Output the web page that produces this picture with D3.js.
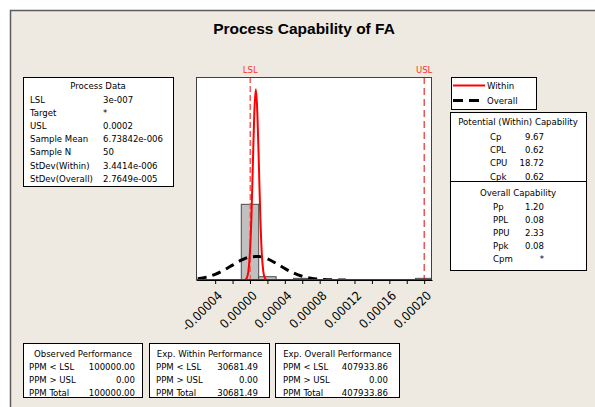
<!DOCTYPE html>
<html>
<head>
<meta charset="utf-8">
<script src="https://cdn.jsdelivr.net/npm/d3@7"></script>
<style>
  body { margin: 0; background: #fff; }
  text { font-family: "DejaVu Sans Condensed", "Liberation Sans", sans-serif; font-stretch: condensed; }
</style>
</head>
<body>
<script>
const width = 595;
const height = 407;

// --- data ---
const processLabels = ["LSL", "Target", "USL", "Sample Mean", "Sample N", "StDev(Within)", "StDev(Overall)"];
const processValues = ["3e-007", "*", "0.0002", "6.73842e-006", "50", "3.4414e-006", "2.7649e-005"];

const lsl = 0.0000003;
const usl = 0.0002;
const sampleN = 50;
const binWidth = 0.00002;
const binCenters = [0, 0.00002, 0.00006, 0.0002];
const binCounts = [46, 2, 1, 1];

// within fit (x in 1e-6 units, density)
const withinX = [-5.3, -3.6, -1.9, -0.2, 1.6, 3.3, 5.0, 6.7, 8.4, 10.2, 11.9, 13.6, 15.3, 17.0, 18.8];
const withinY = [255, 1290, 5090, 15700, 37600, 70300, 102300, 115900, 102300, 70300, 37600, 15700, 5090, 1290, 255];

// overall fit (x in 1e-6 units, density)
const overallX = [-60, -50, -40, -30, -20, -10, 0, 10, 20, 30, 40, 50, 60, 70, 80, 90, 100, 110];
const overallY = [787, 1762, 3466, 5981, 9055, 12025, 14007, 14330, 12863, 10128, 6999, 4241, 2258, 1053, 431, 155, 49, 13];

const tickVals = [-0.00004, -0.00002, 0, 0.00002, 0.00004, 0.00006, 0.00008, 0.0001, 0.00012, 0.00014, 0.00016, 0.00018, 0.0002];
const tickLabels = ["-0.00004", "", "0.00000", "", "0.00004", "", "0.00008", "", "0.00012", "", "0.00016", "", "0.00020"];

const potLabels = ["Cp", "CPL", "CPU", "Cpk"];
const potValues = ["9.67", "0.62", "18.72", "0.62"];
const ovLabels = ["Pp", "PPL", "PPU", "Ppk", "Cpm"];
const ovValues = ["1.20", "0.08", "2.33", "0.08", "*"];

const perfRows = ["PPM < LSL", "PPM > USL", "PPM Total"];
const perfTitles = ["Observed Performance", "Exp. Within Performance", "Exp. Overall Performance"];
const observedPPM = ["100000.00", "0.00", "100000.00"];
const withinPPM = ["30681.49", "0.00", "30681.49"];
const overallPPM = ["407933.86", "0.00", "407933.86"];

const svg = d3.select("body").append("svg")
  .attr("width", width)
  .attr("height", height);

// background panel
svg.append("rect")
  .attr("x", 10.5).attr("y", 10.5)
  .attr("width", 620).attr("height", 420)
  .attr("fill", "#eeeae1")
  .attr("stroke", "#5c5c5c")
  .attr("stroke-width", 1.5);

svg.append("text")
  .attr("x", 304).attr("y", 34)
  .attr("text-anchor", "middle")
  .style("font-family", "'Liberation Sans', sans-serif")
  .style("font-stretch", "normal")
  .style("font-weight", "bold")
  .style("font-size", "15.5px")
  .text("Process Capability of FA");

// --- plot area ---
const plot = { left: 196, right: 432, top: 77, bottom: 280 };

const xScale = d3.scaleLinear()
  .domain([-0.000062, 0.000209])
  .range([plot.left, plot.right]);

const yScale = d3.scaleLinear()
  .domain([0, 123400])
  .range([plot.bottom, plot.top]);

svg.append("rect")
  .attr("x", plot.left).attr("y", plot.top)
  .attr("width", plot.right - plot.left).attr("height", plot.bottom - plot.top)
  .attr("fill", "#fff");

svg.append("clipPath").attr("id", "clip")
  .append("rect")
  .attr("x", plot.left).attr("y", plot.top)
  .attr("width", plot.right - plot.left).attr("height", plot.bottom - plot.top);

const g = svg.append("g").attr("clip-path", "url(#clip)");

// histogram
g.selectAll("rect.bar")
  .data(binCenters.map((c, i) => ({ c: c, n: binCounts[i] })))
  .enter().append("rect")
  .attr("class", "bar")
  .attr("x", d => xScale(d.c - binWidth / 2))
  .attr("width", d => xScale(d.c + binWidth / 2) - xScale(d.c - binWidth / 2))
  .attr("y", d => yScale(d.n / (sampleN * binWidth)))
  .attr("height", d => plot.bottom - yScale(d.n / (sampleN * binWidth)))
  .attr("fill", "#c0c0c0")
  .attr("stroke", "#4a4a4a")
  .attr("stroke-width", 1);

// spec lines
g.append("line")
  .attr("x1", xScale(lsl)).attr("x2", xScale(lsl))
  .attr("y1", plot.top).attr("y2", plot.bottom)
  .attr("stroke", "#f06060").attr("stroke-width", 1.5)
  .attr("stroke-dasharray", "6,3");

g.append("line")
  .attr("x1", xScale(usl)).attr("x2", xScale(usl))
  .attr("y1", plot.top).attr("y2", plot.bottom)
  .attr("stroke", "#e00000").attr("stroke-width", 1)
  .attr("stroke-dasharray", "7,4");

const line = d3.line()
  .x(d => xScale(d[0] * 1e-6))
  .y(d => yScale(d[1]))
  .curve(d3.curveMonotoneX);

g.append("path")
  .datum(overallX.map((x, i) => [x, overallY[i]]))
  .attr("d", line)
  .attr("fill", "none")
  .attr("stroke", "#000")
  .attr("stroke-width", 3)
  .attr("stroke-dasharray", "9,6");

g.append("path")
  .datum(withinX.map((x, i) => [x, withinY[i]]))
  .attr("d", line)
  .attr("fill", "none")
  .attr("stroke", "#ff0000")
  .attr("stroke-width", 2);

// frame
svg.append("rect")
  .attr("x", plot.left + 0.5).attr("y", plot.top + 0.5)
  .attr("width", plot.right - plot.left - 1).attr("height", plot.bottom - plot.top - 1)
  .attr("fill", "none")
  .attr("stroke", "#404040");

svg.append("text").attr("x", xScale(lsl)).attr("y", 73)
  .attr("text-anchor", "middle").attr("fill", "#ff3030")
  .style("font-size", "9.5px").text("LSL");
svg.append("text").attr("x", xScale(usl)).attr("y", 73)
  .attr("text-anchor", "middle").attr("fill", "#ff3030")
  .style("font-size", "9.5px").text("USL");

// x axis
const xAxis = svg.append("g")
  .attr("transform", `translate(0,${plot.bottom})`)
  .call(d3.axisBottom(xScale)
    .tickValues(tickVals)
    .tickSize(4)
    .tickSizeOuter(0)
    .tickFormat((d, i) => tickLabels[i]));

xAxis.select(".domain").attr("stroke", "#000");
xAxis.selectAll(".tick line").attr("stroke", "#000");
xAxis.selectAll(".tick text")
  .attr("text-anchor", "end")
  .attr("transform", "translate(0,9) rotate(-45)")
  .attr("x", 0).attr("y", 6).attr("dy", "0.35em")
  .style("font-size", "12.5px")
  .attr("fill", "#000");

// --- process data box ---
function box(x, y, w, h) {
  svg.append("rect")
    .attr("x", x + 0.5).attr("y", y + 0.5)
    .attr("width", w).attr("height", h)
    .attr("fill", "#fff").attr("stroke", "#000");
}

box(23, 77, 150, 109);
svg.append("text").attr("x", 98).attr("y", 89)
  .attr("text-anchor", "middle").style("font-size", "9.5px").text("Process Data");
svg.selectAll("text.pl").data(processLabels).enter().append("text")
  .attr("x", 30).attr("y", (d, i) => 102.5 + i * 13.2)
  .style("font-size", "9.5px").text(d => d);
svg.selectAll("text.pv").data(processValues).enter().append("text")
  .attr("x", 103).attr("y", (d, i) => 102.5 + i * 13.2)
  .style("font-size", "9.5px").text(d => d);

// --- legend ---
box(451, 77, 85, 32);
svg.append("line").attr("x1", 453).attr("x2", 485).attr("y1", 85.5).attr("y2", 85.5)
  .attr("stroke", "#ff0000").attr("stroke-width", 2);
svg.append("line").attr("x1", 453).attr("x2", 485).attr("y1", 100.5).attr("y2", 100.5)
  .attr("stroke", "#000").attr("stroke-width", 3).attr("stroke-dasharray", "10,6");
svg.append("text").attr("x", 487).attr("y", 89).style("font-size", "9.5px").text("Within");
svg.append("text").attr("x", 487).attr("y", 104).style("font-size", "9.5px").text("Overall");

// --- capability box ---
box(450, 112, 136, 158);
svg.append("line").attr("x1", 450).attr("x2", 586).attr("y1", 181.5).attr("y2", 181.5).attr("stroke", "#000");
svg.append("text").attr("x", 518).attr("y", 125)
  .attr("text-anchor", "middle").style("font-size", "9.5px").text("Potential (Within) Capability");
svg.selectAll("text.cl").data(potLabels).enter().append("text")
  .attr("x", 490).attr("y", (d, i) => 139.5 + i * 13.35)
  .style("font-size", "9.5px").text(d => d);
svg.selectAll("text.cv").data(potValues).enter().append("text")
  .attr("x", 544).attr("y", (d, i) => 139.5 + i * 13.35)
  .attr("text-anchor", "end").style("font-size", "9.5px").text(d => d);
svg.append("text").attr("x", 518).attr("y", 195.5)
  .attr("text-anchor", "middle").style("font-size", "9.5px").text("Overall Capability");
svg.selectAll("text.ol").data(ovLabels).enter().append("text")
  .attr("x", 493).attr("y", (d, i) => 209.5 + i * 13.2)
  .style("font-size", "9.5px").text(d => d);
svg.selectAll("text.ov").data(ovValues).enter().append("text")
  .attr("x", 544).attr("y", (d, i) => 209.5 + i * 13.2)
  .attr("text-anchor", "end").style("font-size", "9.5px").text(d => d);

// --- performance boxes ---
const perfBoxes = [
  { x: 23, w: 119, labelX: 29, valX: 135, vals: observedPPM },
  { x: 149, w: 120, labelX: 156, valX: 258, vals: withinPPM },
  { x: 275, w: 124, labelX: 283, valX: 388, vals: overallPPM }
];
perfBoxes.forEach((b, k) => {
  box(b.x, 343, b.w, 54);
  svg.append("text").attr("x", b.x + b.w / 2 + 0.5).attr("y", 356.5)
    .attr("text-anchor", "middle").style("font-size", "9.5px").text(perfTitles[k]);
  perfRows.forEach((r, i) => {
    svg.append("text").attr("x", b.labelX).attr("y", 370 + i * 13.2)
      .style("font-size", "9.5px").text(r);
    svg.append("text").attr("x", b.valX).attr("y", 370 + i * 13.2)
      .attr("text-anchor", "end").style("font-size", "9.5px").text(b.vals[i]);
  });
});
</script>
</body>
</html>
